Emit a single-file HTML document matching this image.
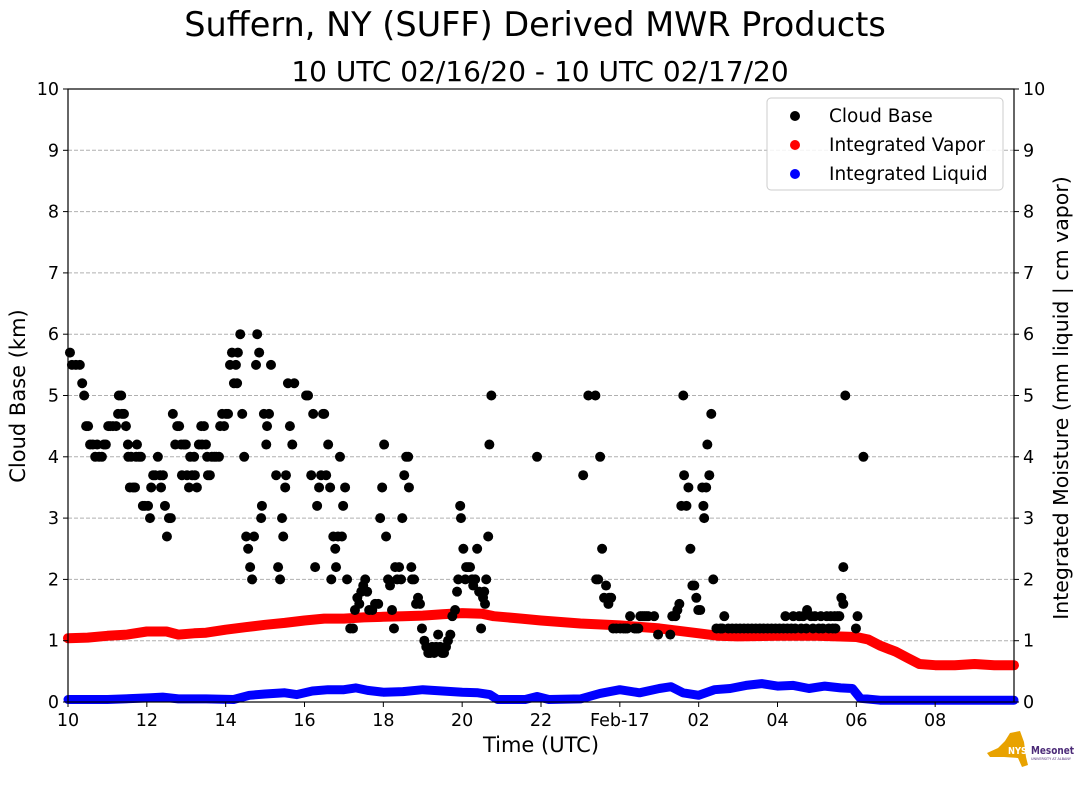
<!DOCTYPE html>
<html><head><meta charset="utf-8"><style>
body{margin:0;background:#fff;width:1089px;height:804px;overflow:hidden;font-family:"Liberation Sans","DejaVu Sans",sans-serif}
svg text{font-family:"DejaVu Sans","Liberation Sans",sans-serif}
</style></head><body>
<svg id="chart" width="1089" height="804" viewBox="0 0 1089 804" xmlns="http://www.w3.org/2000/svg">
<text x="535" y="36" text-anchor="middle" font-size="33.5">Suffern, NY (SUFF) Derived MWR Products</text>
<text x="540" y="81" text-anchor="middle" font-size="28">10 UTC 02/16/20 - 10 UTC 02/17/20</text>
<g id="grid"></g>
<g id="series"></g>
<rect x="68" y="89" width="946" height="613" fill="none" stroke="#000" stroke-width="1.2"/>
<g id="axes"></g>
<text x="541" y="752" text-anchor="middle" font-size="21">Time (UTC)</text>
<text transform="translate(25,396) rotate(-90)" text-anchor="middle" font-size="21">Cloud Base (km)</text>
<text transform="translate(1068,398) rotate(-90)" text-anchor="middle" font-size="20.5">Integrated Moisture (mm liquid | cm vapor)</text>
<g>
<rect x="767" y="98" width="236" height="92" rx="4" fill="#fff" fill-opacity="0.85" stroke="#ccc"/>
<g><circle cx="795" cy="116" r="5" fill="#000"/><text x="829" y="122" font-size="18.5">Cloud Base</text></g>
<g><circle cx="795" cy="145" r="5" fill="red"/><text x="829" y="151" font-size="18.5">Integrated Vapor</text></g>
<g><circle cx="795" cy="174" r="5" fill="blue"/><text x="829" y="180" font-size="18.5">Integrated Liquid</text></g>
</g>
<g>
<path d="M987 753 L998 748 L1005 741 L1010 733 L1020 731 L1024 742 L1026 757 L1028 765 L1022 767 L1018 758 L1004 757 L990 757 Z" fill="#e8a200"/>
<text x="1008" y="754" font-size="10" font-weight="bold" fill="#fff" textLength="19" lengthAdjust="spacingAndGlyphs">NYS</text>
<text x="1031" y="754" font-size="11" font-weight="bold" fill="#4b2a77" textLength="43" lengthAdjust="spacingAndGlyphs">Mesonet</text>
<text x="1031" y="760" font-size="3.5" fill="#4b2a77" textLength="40" lengthAdjust="spacingAndGlyphs">UNIVERSITY AT ALBANY</text>
</g>
</svg>
<script>
const yTicks=[0,1,2,3,4,5,6,7,8,9,10];
const xTickHours=[0,2,4,6,8,10,12,14,16,18,20,22];
const xTickLabels=["10","12","14","16","18","20","22","Feb-17","02","04","06","08"];
const cbTime=[0.05,0.10,0.20,0.30,0.36,0.41,0.46,0.51,0.56,0.63,0.69,0.74,0.79,0.86,0.91,0.96,1.02,1.07,1.14,1.22,1.27,1.29,1.35,1.37,1.42,1.47,1.52,1.53,1.60,1.57,1.65,1.70,1.73,1.75,1.80,1.85,1.90,1.95,2.03,2.08,2.11,2.16,2.21,2.28,2.34,2.36,2.41,2.46,2.51,2.56,2.61,2.66,2.72,2.77,2.82,2.87,2.89,2.94,2.99,3.02,3.07,3.10,3.15,3.20,3.22,3.27,3.32,3.38,3.40,3.45,3.50,3.53,3.55,3.60,3.65,3.71,3.76,3.83,3.86,3.91,3.96,4.01,4.06,4.11,4.16,4.21,4.26,4.29,4.31,4.37,4.42,4.47,4.52,4.57,4.62,4.67,4.72,4.77,4.80,4.85,4.90,4.92,4.97,5.03,5.05,5.10,5.15,5.28,5.33,5.38,5.43,5.46,5.51,5.53,5.58,5.63,5.69,5.74,6.04,6.09,6.17,6.22,6.27,6.32,6.37,6.42,6.47,6.50,6.55,6.60,6.65,6.68,6.73,6.78,6.80,6.85,6.90,6.95,6.98,7.03,7.08,7.16,7.23,7.28,7.34,7.39,7.44,7.49,7.54,7.59,7.64,7.72,7.79,7.87,7.92,7.97,8.02,8.07,8.12,8.17,8.22,8.27,8.30,8.35,8.40,8.45,8.48,8.53,8.58,8.63,8.65,8.71,8.73,8.78,8.83,8.88,8.93,8.98,9.04,9.09,9.14,9.19,9.24,9.29,9.34,9.39,9.44,9.49,9.54,9.59,9.64,9.70,9.75,9.82,9.87,9.90,9.95,9.97,10.03,10.08,10.10,10.15,10.20,10.25,10.28,10.33,10.38,10.43,10.48,10.53,10.56,10.58,10.61,10.66,10.69,10.74,11.90,13.07,13.20,13.38,13.40,13.45,13.50,13.55,13.60,13.65,13.71,13.73,13.78,13.83,13.91,14.01,14.09,14.14,14.19,14.26,14.37,14.42,14.47,14.52,14.57,14.62,14.67,14.72,14.87,14.97,15.28,15.33,15.41,15.46,15.51,15.56,15.61,15.63,15.69,15.74,15.79,15.84,15.89,15.94,15.99,16.04,16.09,16.12,16.14,16.19,16.22,16.27,16.32,16.37,16.45,16.55,16.60,16.65,16.75,16.85,16.95,17.05,17.15,17.25,17.35,17.45,17.55,17.65,17.75,17.85,17.95,18.05,18.15,18.20,18.25,18.35,18.40,18.45,18.55,18.60,18.65,18.73,18.75,18.85,18.90,18.95,19.05,19.10,19.15,19.25,19.30,19.35,19.40,19.45,19.47,19.52,19.57,19.62,19.67,19.67,19.72,19.99,20.03,20.18];
const cbKm=[5.7,5.5,5.5,5.5,5.2,5.0,4.5,4.5,4.2,4.2,4.0,4.2,4.0,4.0,4.2,4.2,4.5,4.5,4.5,4.5,4.7,5.0,5.0,4.7,4.7,4.5,4.2,4.0,4.0,3.5,3.5,3.5,4.0,4.2,4.0,4.0,3.2,3.2,3.2,3.0,3.5,3.7,3.7,4.0,3.7,3.5,3.7,3.2,2.7,3.0,3.0,4.7,4.2,4.5,4.5,4.2,3.7,4.2,4.2,3.7,3.5,4.0,3.7,4.0,3.7,3.5,4.2,4.5,4.2,4.5,4.2,4.0,3.7,3.7,4.0,4.0,4.0,4.0,4.5,4.7,4.5,4.7,4.7,5.5,5.7,5.2,5.5,5.2,5.7,6.0,4.7,4.0,2.7,2.5,2.2,2.0,2.7,5.5,6.0,5.7,3.0,3.2,4.7,4.2,4.5,4.7,5.5,3.7,2.2,2.0,3.0,2.7,3.5,3.7,5.2,4.5,4.2,5.2,5.0,5.0,3.7,4.7,2.2,3.2,3.5,3.7,4.7,4.7,3.7,4.2,3.5,2.0,2.7,2.5,2.2,2.7,4.0,2.7,3.2,3.5,2.0,1.2,1.2,1.5,1.7,1.6,1.8,1.9,2.0,1.8,1.5,1.5,1.6,1.6,3.0,3.5,4.2,2.7,2.0,1.9,1.5,1.2,2.2,2.0,2.2,2.0,3.0,3.7,4.0,4.0,3.5,2.2,2.0,2.0,1.6,1.7,1.6,1.2,1.0,0.9,0.8,0.8,0.9,0.8,0.9,1.1,0.9,0.8,0.8,0.9,1.0,1.1,1.4,1.5,1.8,2.0,3.2,3.0,2.5,2.0,2.2,2.2,2.2,2.0,1.9,2.0,2.5,1.8,1.2,1.7,1.8,1.6,2.0,2.7,4.2,5.0,4.0,3.7,5.0,5.0,2.0,2.0,4.0,2.5,1.7,1.9,1.6,1.7,1.7,1.2,1.2,1.2,1.2,1.2,1.2,1.4,1.2,1.2,1.2,1.4,1.4,1.4,1.4,1.4,1.4,1.1,1.1,1.4,1.4,1.5,1.6,3.2,5.0,3.7,3.2,3.5,2.5,1.9,1.9,1.7,1.5,1.5,3.5,3.2,3.0,3.5,4.2,3.7,4.7,2.0,1.2,1.2,1.2,1.4,1.2,1.2,1.2,1.2,1.2,1.2,1.2,1.2,1.2,1.2,1.2,1.2,1.2,1.2,1.2,1.4,1.2,1.2,1.4,1.2,1.4,1.2,1.4,1.2,1.5,1.4,1.2,1.4,1.2,1.4,1.2,1.4,1.2,1.4,1.2,1.4,1.2,1.4,1.4,1.7,1.6,2.2,5.0,1.2,1.4,4.0];
const vapTime=[0,0.5,1,1.5,2,2.5,2.8,3.2,3.5,4,4.5,5,5.5,6,6.5,7,7.5,8,8.5,9,9.5,10,10.5,10.8,11.5,12,13,14,15,16,16.5,17,18,19,20,20.3,20.6,21,21.3,21.6,22,22.5,23,23.5,24];
const vapVal=[1.04,1.05,1.08,1.10,1.15,1.15,1.10,1.12,1.13,1.18,1.22,1.26,1.29,1.33,1.36,1.36,1.38,1.39,1.40,1.41,1.43,1.45,1.44,1.40,1.36,1.33,1.28,1.25,1.20,1.12,1.08,1.07,1.08,1.08,1.06,1.02,0.92,0.82,0.72,0.62,0.60,0.60,0.62,0.60,0.60];
const liqTime=[0,1,1.8,2.1,2.4,2.8,3.5,4.2,4.6,5.0,5.5,5.8,6.2,6.6,7.0,7.3,7.6,8.0,8.5,9.0,9.5,10.0,10.4,10.7,10.9,11.6,11.9,12.2,13.0,13.5,14.0,14.5,15.0,15.3,15.6,16.0,16.4,16.8,17.2,17.6,18.0,18.4,18.8,19.2,19.6,19.9,20.1,20.6,22,24];
const liqVal=[0.04,0.04,0.06,0.07,0.08,0.05,0.05,0.04,0.11,0.13,0.15,0.12,0.18,0.20,0.20,0.23,0.19,0.16,0.17,0.20,0.18,0.16,0.15,0.12,0.04,0.04,0.09,0.04,0.05,0.14,0.20,0.15,0.22,0.25,0.15,0.11,0.20,0.22,0.27,0.30,0.26,0.27,0.22,0.26,0.23,0.22,0.06,0.03,0.03,0.03];

const X0=68,X1=1014,Y0=702,Y1=89;
const xs=h=>X0+(h/24)*(X1-X0);
const ys=v=>Y0-(v/10)*(Y0-Y1);
const NS="http://www.w3.org/2000/svg";
function mk(tag,attrs,parent){const e=document.createElementNS(NS,tag);for(const k in attrs)e.setAttribute(k,attrs[k]);parent.appendChild(e);return e;}
const grid=document.getElementById('grid'),axes=document.getElementById('axes'),ser=document.getElementById('series');
yTicks.forEach(t=>{
  if(t>0&&t<10){const l=mk('line',{x1:X0,x2:X1,y1:ys(t),y2:ys(t),stroke:'#b0b0b0','stroke-dasharray':'4,2','stroke-width':1},grid);
  
  }
  mk('line',{x1:X0-5,x2:X0,y1:ys(t),y2:ys(t),stroke:'#000'},axes);
  mk('line',{x1:X1,x2:X1+5,y1:ys(t),y2:ys(t),stroke:'#000'},axes);
  const a=mk('text',{x:X0-9,y:ys(t)+6,'text-anchor':'end','font-size':17.5},axes);a.textContent=t;
  
  
  const b=mk('text',{x:X1+9,y:ys(t)+6,'font-size':17.5},axes);b.textContent=t;
  
  
});
xTickHours.forEach((h,i)=>{
  mk('line',{x1:xs(h),x2:xs(h),y1:Y0,y2:Y0+5,stroke:'#000'},axes);
  const t=mk('text',{x:xs(h),y:Y0+24,'text-anchor':'middle','font-size':17.5},axes);t.textContent=xTickLabels[i];
  
  
});
function line(tx,vy,color,w,name){
  const d=tx.map((h,i)=>(i?'L':'M')+xs(h).toFixed(1)+' '+ys(vy[i]).toFixed(1)).join(' ');
  const p=mk('path',{d:d,fill:'none',stroke:color,'stroke-width':w,'stroke-linejoin':'round','stroke-linecap':'round'},ser);
  
  
}
line(vapTime,vapVal,'red',10,'integrated-vapor-series');
line(liqTime,liqVal,'blue',9,'integrated-liquid-series');
cbTime.forEach((h,i)=>{
  const c=mk('circle',{cx:xs(h),cy:ys(cbKm[i]),r:5,fill:'#000'},ser);
  
  
});
</script>
</body></html>
